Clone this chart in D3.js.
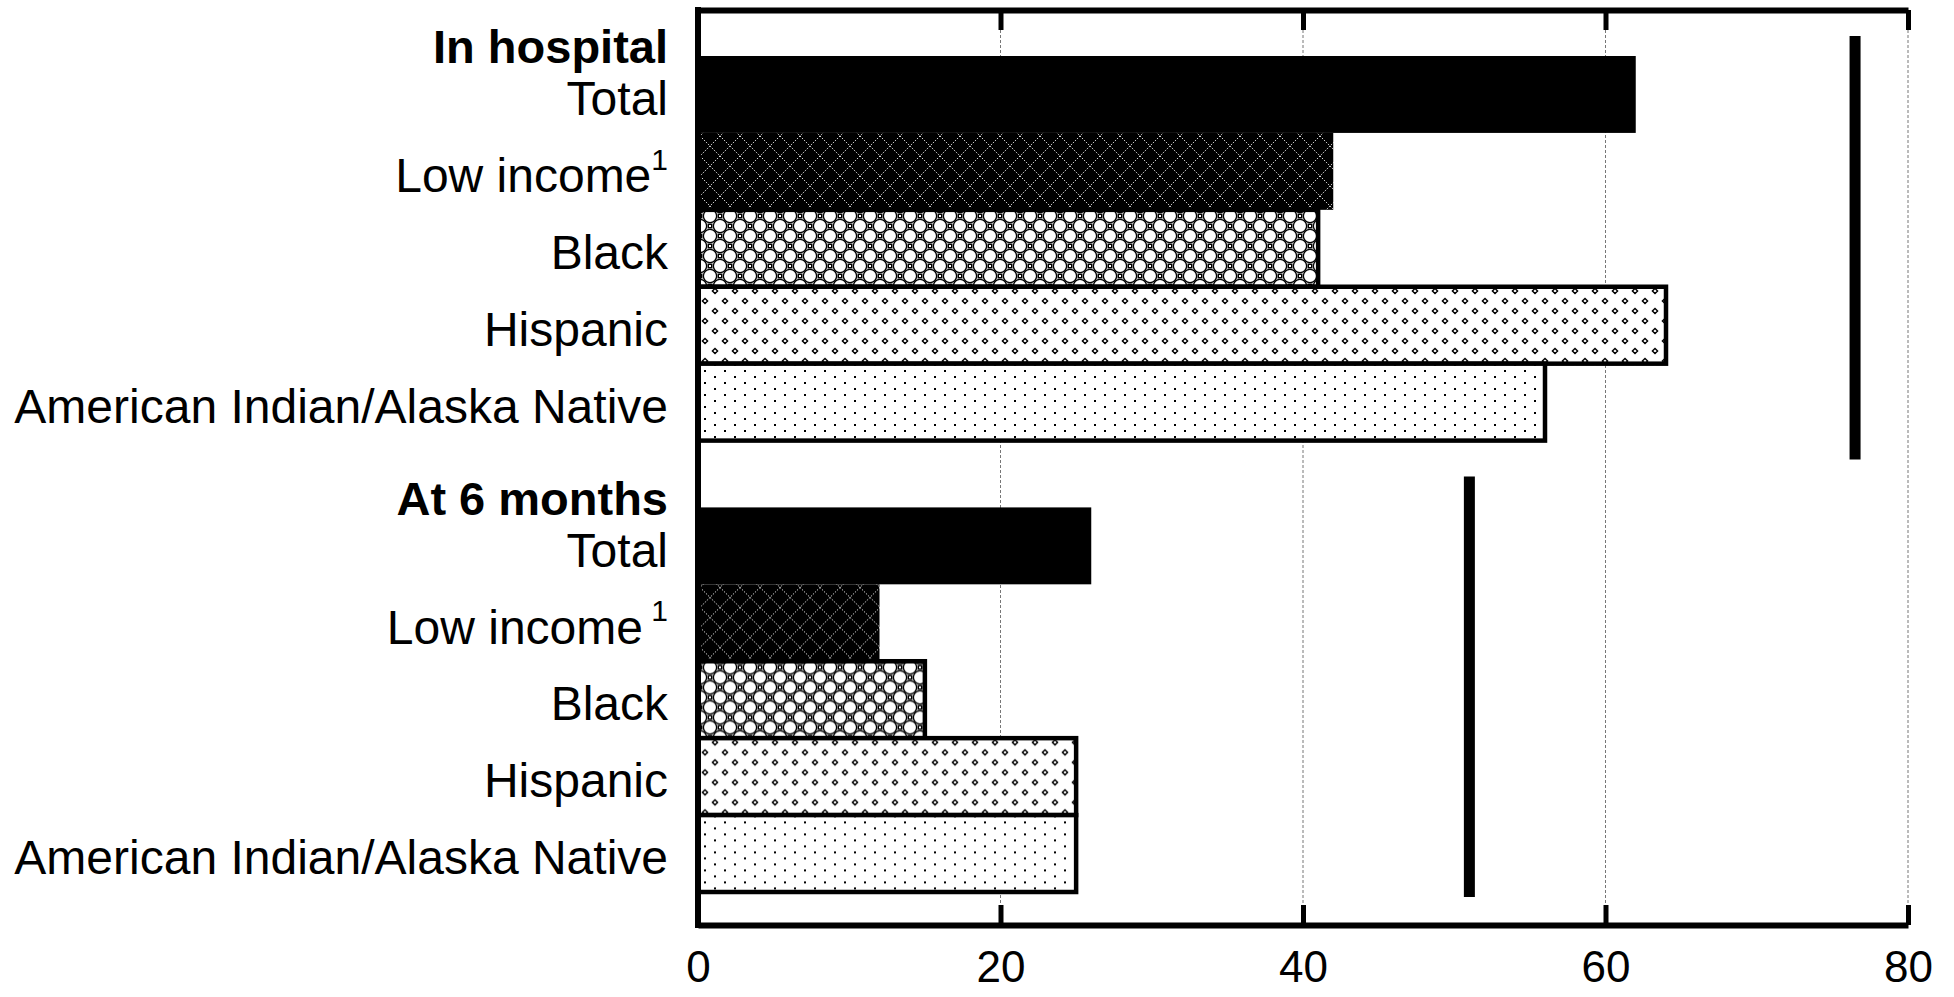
<!DOCTYPE html>
<html>
<head>
<meta charset="utf-8">
<script src="https://cdn.jsdelivr.net/npm/d3@7"></script>
<style>
  body { margin: 0; background: #fff; }
  svg text { font-family: "Liberation Sans", Arial, sans-serif; fill: #000; }
</style>
</head>
<body>
<script>
// data
const groups = ["In hospital", "At 6 months"];
const categories = ["Total", "Low income", "Black", "Hispanic", "American Indian/Alaska Native"];
const hospitalValues = [62, 42, 41, 64, 56];
const sixMonthValues = [26, 12, 15, 25, 25];
const targetValues = [76.5, 51];
const xTicks = [0, 20, 40, 60, 80];

const groupValues = [hospitalValues, sixMonthValues];
const fills = ["#000", "url(#pLow)", "url(#pBlack)", "url(#pHisp)", "url(#pNative)"];

const w = 1954, h = 997;
const plotLeft = 698, plotRight = 1908, plotTop = 10, plotBottom = 925;

const svg = d3.select("body").append("svg")
  .attr("width", w)
  .attr("height", h);

// patterns
const defs = svg.append("defs");

let p = defs.append("pattern").attr("id", "pLow")
  .attr("patternUnits", "userSpaceOnUse").attr("width", 20).attr("height", 20);
p.append("rect").attr("width", 20).attr("height", 20).attr("fill", "#000");
p.append("path").attr("d", "M0,0L20,20M20,0L0,20")
  .attr("stroke", "#fff").attr("stroke-width", 1).attr("stroke-dasharray", "1.2,1.6");

p = defs.append("pattern").attr("id", "pBlack")
  .attr("patternUnits", "userSpaceOnUse").attr("width", 20).attr("height", 20);
p.append("rect").attr("width", 20).attr("height", 20).attr("fill", "#fff");
[[10, 0], [0, 10], [20, 10], [10, 20]].forEach(function(c) {
  p.append("circle").attr("cx", c[0]).attr("cy", c[1]).attr("r", 6.6)
    .attr("fill", "none").attr("stroke", "#000").attr("stroke-width", 1.3);
});
[[0, 0], [20, 0], [0, 20], [20, 20], [10, 10]].forEach(function(c) {
  p.append("rect").attr("x", c[0] - 2.5).attr("y", c[1] - 2.5).attr("width", 5).attr("height", 5).attr("fill", "#000");
  p.append("rect").attr("x", c[0] - 1).attr("y", c[1] - 1).attr("width", 2).attr("height", 2).attr("fill", "#fff");
});

p = defs.append("pattern").attr("id", "pHisp")
  .attr("patternUnits", "userSpaceOnUse").attr("width", 20).attr("height", 20);
p.append("rect").attr("width", 20).attr("height", 20).attr("fill", "#fff");
[[5, 5], [15, 15]].forEach(function(c) {
  p.append("path")
    .attr("d", "M" + (c[0] - 2.6) + "," + c[1] + "L" + c[0] + "," + (c[1] - 2.6) + "L" + (c[0] + 2.6) + "," + c[1] + "L" + c[0] + "," + (c[1] + 2.6) + "Z")
    .attr("fill", "none").attr("stroke", "#000").attr("stroke-width", 1.4);
});

p = defs.append("pattern").attr("id", "pNative")
  .attr("patternUnits", "userSpaceOnUse").attr("width", 20).attr("height", 12);
p.append("rect").attr("width", 20).attr("height", 12).attr("fill", "#fff");
[[4, 2], [14, 8]].forEach(function(c) {
  p.append("rect").attr("x", c[0]).attr("y", c[1]).attr("width", 2).attr("height", 2).attr("fill", "#000");
});

// scales
const x = d3.scaleLinear().domain([0, 80]).range([plotLeft, plotRight]);

const yGroup = d3.scaleBand()
  .domain(groups)
  .range([56, 892])
  .paddingInner(0.148);

const y = d3.scaleBand()
  .domain(categories)
  .range([0, yGroup.bandwidth()]);

// gridlines
svg.append("g").selectAll("line")
  .data(xTicks.slice(1))
  .enter()
  .append("line")
  .attr("x1", function(d) { return x(d); })
  .attr("x2", function(d) { return x(d); })
  .attr("y1", plotTop)
  .attr("y2", plotBottom)
  .attr("stroke", "#777")
  .attr("stroke-width", 1)
  .attr("stroke-dasharray", "3,2");

// bars
groups.forEach(function(g, gi) {
  const gg = svg.append("g").attr("transform", "translate(0," + yGroup(g) + ")");

  gg.selectAll("rect")
    .data(groupValues[gi])
    .enter()
    .append("rect")
    .attr("x", x(0))
    .attr("y", function(d, i) { return y(categories[i]); })
    .attr("width", function(d) { return x(d) - x(0); })
    .attr("height", y.bandwidth())
    .attr("fill", function(d, i) { return fills[i]; })
    .attr("stroke", "#000")
    .attr("stroke-width", function(d, i) { return i < 2 ? 0 : 4.5; });

  // labels
  const lab = gg.selectAll("text.cat")
    .data(categories)
    .enter()
    .append("text")
    .attr("class", "cat")
    .attr("x", 668)
    .attr("y", function(d) { return y(d) + y.bandwidth() / 2 + 4; })
    .attr("dy", "0.35em")
    .attr("text-anchor", "end")
    .attr("font-size", 48)
    .text(function(d) { return d; });
  lab.filter(function(d) { return d == "Low income"; })
    .append("tspan")
    .attr("font-size", 30)
    .attr("dy", "-0.75em")
    .text((gi == 1 ? " " : "") + "1");

  gg.append("text")
    .attr("x", 668)
    .attr("y", -9)
    .attr("dy", "0.35em")
    .attr("text-anchor", "end")
    .attr("font-size", 47)
    .attr("font-weight", "bold")
    .text(g);

  // target line
  gg.append("line")
    .attr("x1", x(targetValues[gi]))
    .attr("x2", x(targetValues[gi]))
    .attr("y1", gi == 0 ? -20 : -31)
    .attr("y2", yGroup.bandwidth() + (gi == 0 ? 19 : 5))
    .attr("stroke", "#000")
    .attr("stroke-width", 11);
});

// frame and axes
const xAxis = svg.append("g")
  .attr("transform", "translate(0," + plotBottom + ")")
  .call(d3.axisBottom(x).tickValues(xTicks).tickSize(-20).tickSizeOuter(0).tickPadding(26));
xAxis.select(".domain").attr("stroke", "#000").attr("stroke-width", 6);
xAxis.selectAll(".tick line").attr("stroke", "#000").attr("stroke-width", 5);
xAxis.selectAll(".tick text")
  .attr("font-size", 44)
  .attr("font-family", "Liberation Sans, Arial, sans-serif");

const topAxis = svg.append("g")
  .attr("transform", "translate(0," + plotTop + ")")
  .call(d3.axisTop(x).tickValues(xTicks.slice(1)).tickSize(-20).tickSizeOuter(0).tickFormat(""));
topAxis.select(".domain").attr("stroke", "#000").attr("stroke-width", 6);
topAxis.selectAll(".tick line").attr("stroke", "#000").attr("stroke-width", 5);

svg.append("line")
  .attr("x1", x(0)).attr("x2", x(0))
  .attr("y1", plotTop - 3).attr("y2", plotBottom + 3)
  .attr("stroke", "#000")
  .attr("stroke-width", 6);
</script>
</body>
</html>
